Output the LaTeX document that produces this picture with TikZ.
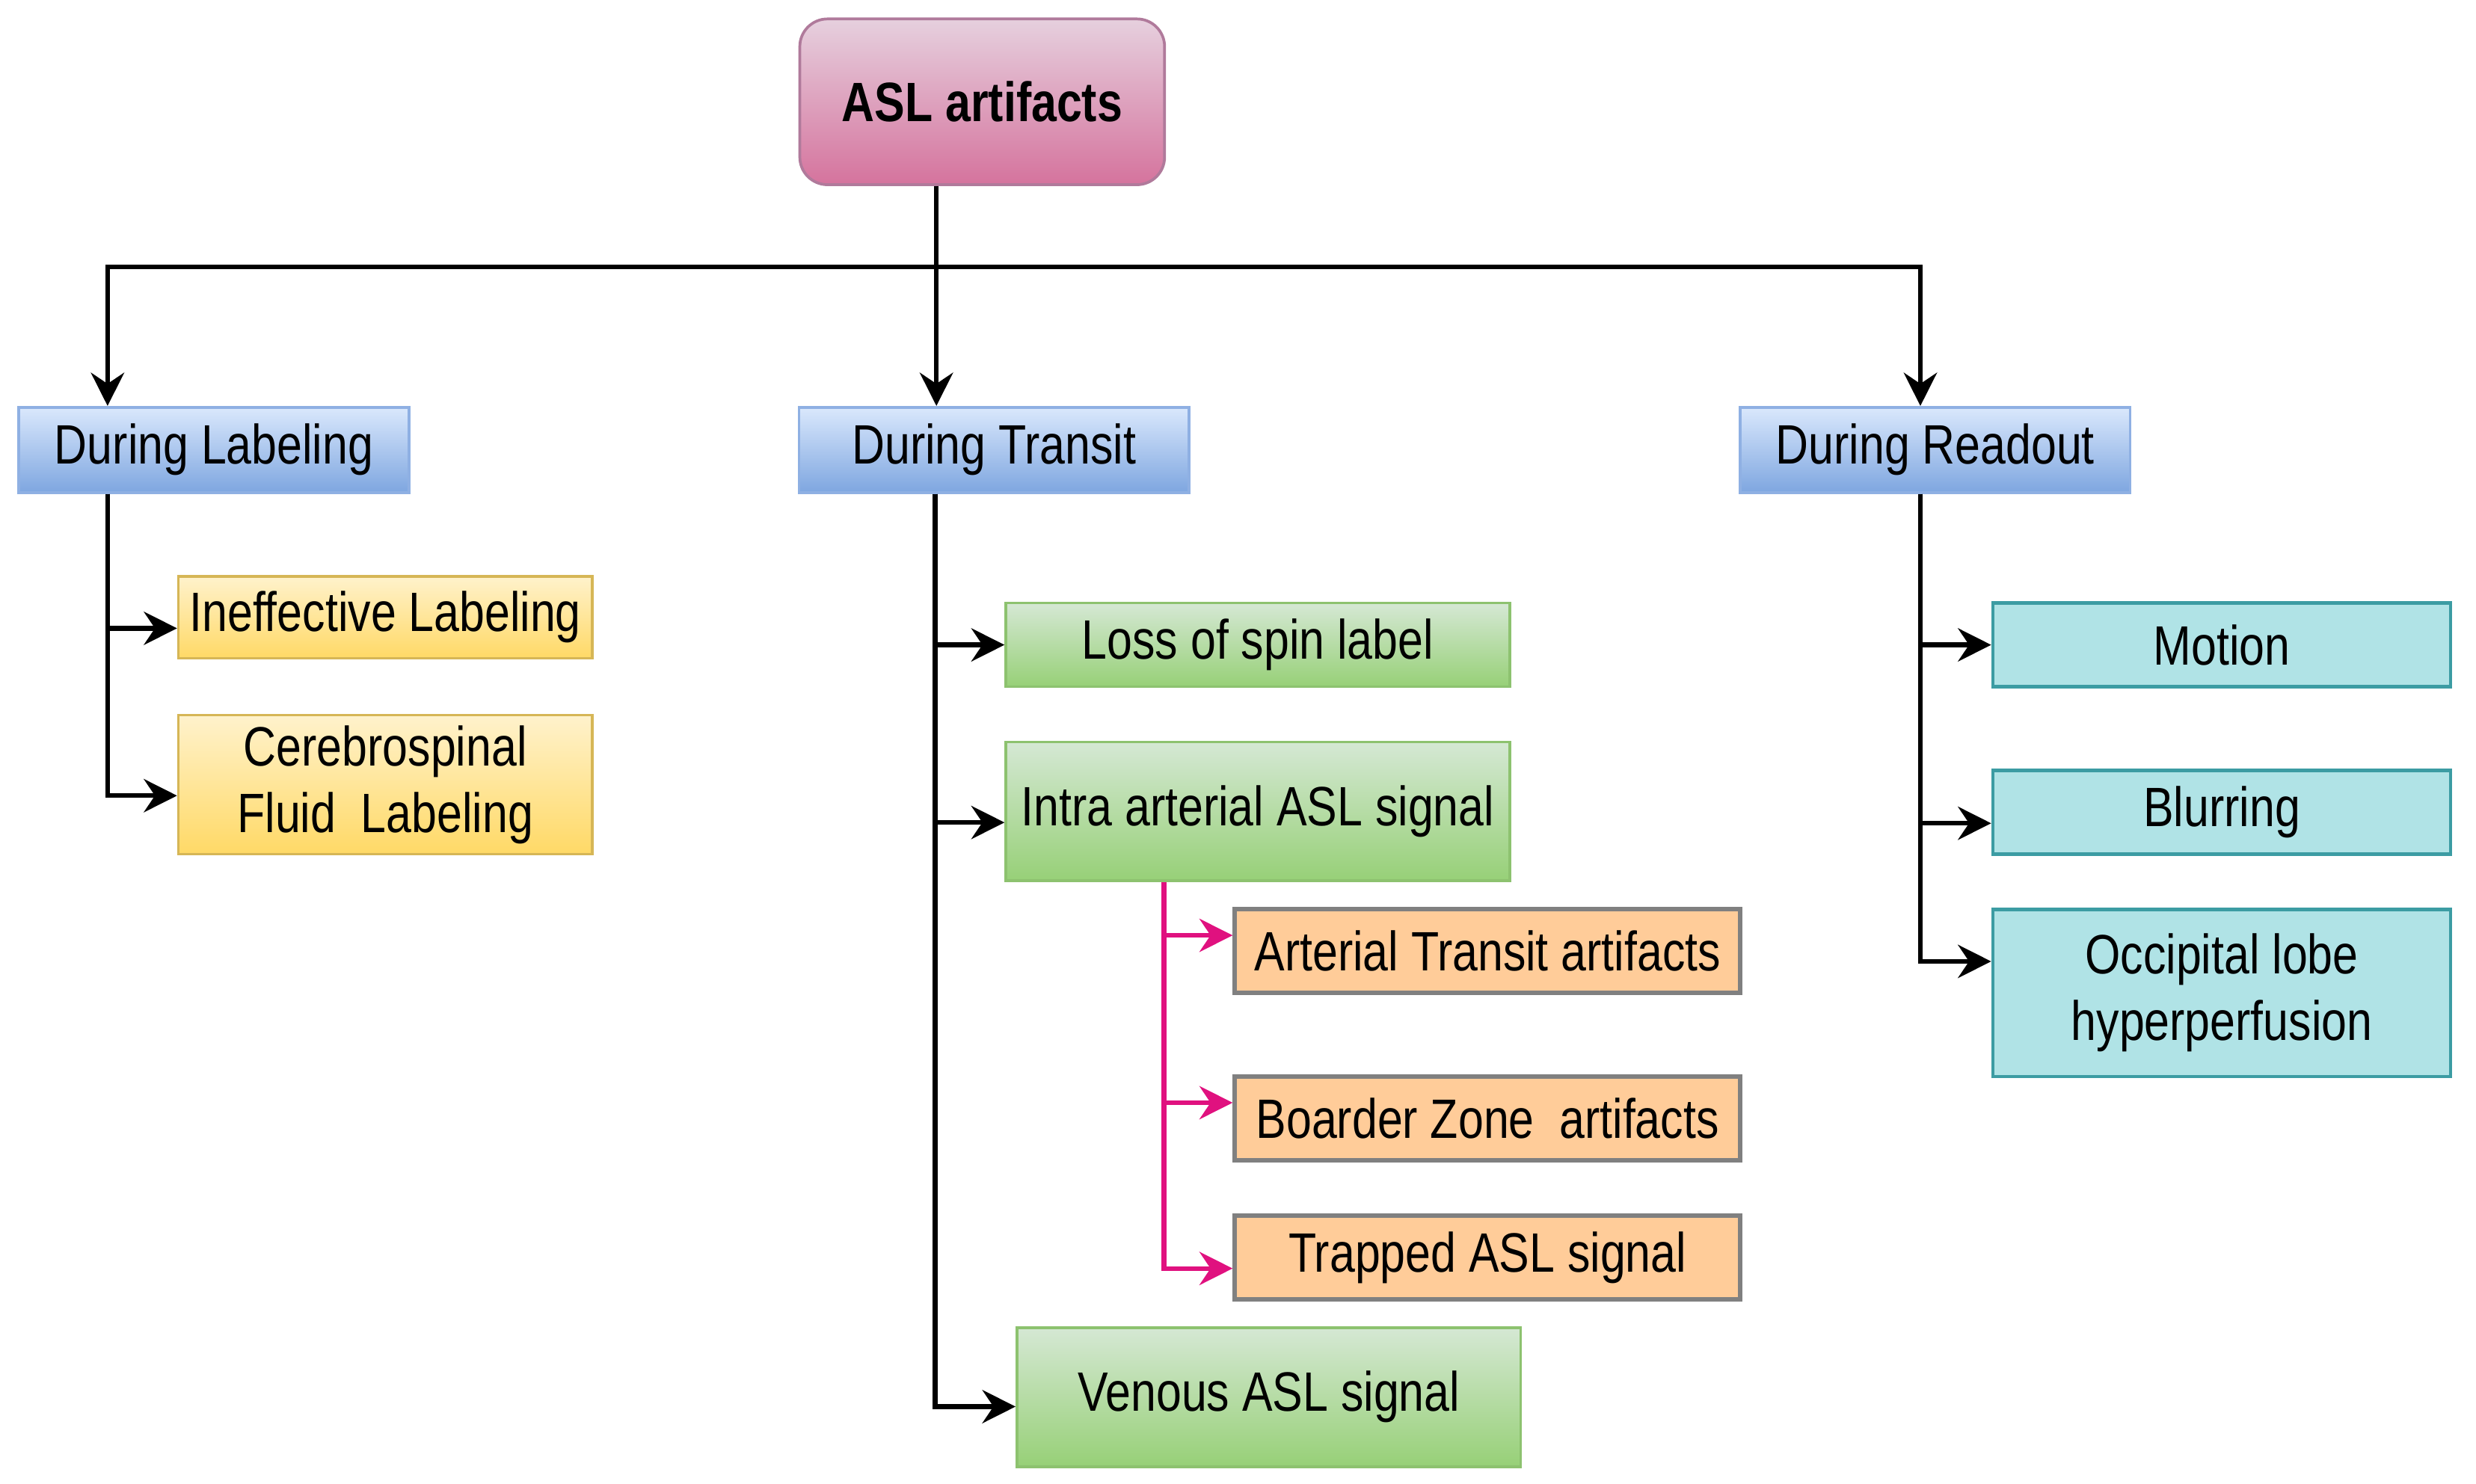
\documentclass[tikz,border=0pt]{standalone}
\usepackage{fontspec}
\setmainfont{Liberation Sans}[FakeStretch=0.82]
\usepackage{tikz}
\usetikzlibrary{arrows.meta,positioning,calc}

\definecolor{rootfill}{HTML}{E6D0DE}
\definecolor{rootgrad}{HTML}{D5739D}
\definecolor{rootline}{HTML}{B07A9B}
\definecolor{phasefill}{HTML}{DAE8FC}
\definecolor{phasegrad}{HTML}{7EA6E0}
\definecolor{phaseline}{HTML}{8FB0E3}
\definecolor{labfill}{HTML}{FFF2CC}
\definecolor{labgrad}{HTML}{FFD966}
\definecolor{labline}{HTML}{D6B656}
\definecolor{tranfill}{HTML}{D5E8D4}
\definecolor{trangrad}{HTML}{97D077}
\definecolor{tranline}{HTML}{8DC26F}
\definecolor{artfill}{HTML}{FFCC99}
\definecolor{artline}{HTML}{808080}
\definecolor{readfill}{HTML}{B0E3E6}
\definecolor{readline}{HTML}{3C9CA3}
\definecolor{pinkarrow}{HTML}{E0117F}

\begin{document}
\begin{tikzpicture}[
    root/.style={draw=rootline,line width=1pt,rounded corners=0.35cm,top color=rootfill,bottom color=rootgrad,font=\fontsize{20}{24}\selectfont\bfseries, minimum width=4.62cm, minimum height=2.1cm},
    phase/.style={draw=phaseline,line width=1pt,top color=phasefill,bottom color=phasegrad,font=\fontsize{20}{24}\selectfont, minimum width=4.94cm, minimum height=1.08cm},
    labbox/.style={draw=labline,line width=1pt,top color=labfill,bottom color=labgrad,font=\fontsize{20}{24}\selectfont, align=center, minimum width=5.24cm, minimum height=1.04cm},
    tranbox/.style={draw=tranline,line width=1pt,top color=tranfill,bottom color=trangrad,font=\fontsize{20}{24}\selectfont, align=center, minimum width=6.38cm, minimum height=1.06cm},
    artbox/.style={draw=artline,line width=1.6pt,fill=artfill,font=\fontsize{20}{24}\selectfont, minimum width=6.4cm, minimum height=1.06cm},
    readbox/.style={draw=readline,line width=1.2pt,fill=readfill,font=\fontsize{20}{24}\selectfont, align=center, minimum width=5.8cm, minimum height=1.06cm},
    link/.style={line width=1.7pt,->,>={Stealth[length=4.2mm,width=4.2mm,inset=1.4mm]}},
    pinklink/.style={link,color=pinkarrow}
    ]
\useasboundingbox (0,0) rectangle (31.36,-18.8);

    \node[root] (root)            at (12.44,-1.29)  {ASL artifacts};
    \node[phase] (labeling)       at (2.71,-5.70)   {During Labeling};
    \node[phase] (transit)        at (12.59,-5.70)  {During Transit};
    \node[phase] (readout)        at (24.51,-5.70)  {During Readout};
    \node[labbox] (ineffective)   at (4.88,-7.82)   {Ineffective Labeling};
    \node[labbox,minimum height=1.76cm] (csf) at (4.88,-9.94) {Cerebrospinal\\Fluid~ Labeling};
    \node[tranbox] (spinloss)     at (15.93,-8.17)  {Loss of spin label};
    \node[tranbox,minimum height=1.76cm] (intra)  at (15.93,-10.28) {Intra arterial ASL signal};
    \node[tranbox,minimum height=1.76cm] (venous) at (16.07,-17.70) {Venous ASL signal};
    \node[artbox] (arterial)      at (18.84,-12.05) {Arterial Transit artifacts};
    \node[artbox] (border)        at (18.84,-14.17) {Boarder Zone~ artifacts};
    \node[artbox] (trapped)       at (18.84,-15.93) {Trapped ASL signal};
    \node[readbox] (motion)       at (28.14,-8.17)  {Motion};
    \node[readbox] (blurring)     at (28.14,-10.29) {Blurring};
    \node[readbox,minimum height=2.12cm] (occipital) at (28.14,-12.58) {Occipital lobe\\hyperperfusion};
    \coordinate (split) at (11.86,-3.38);

    \draw[line width=1.7pt] (root.south -| split) -- (split);
    \draw[link] (split) -| ([xshift=1.14cm]labeling.north west);
    \draw[link] (split) -- (split |- transit.north);
    \draw[link] (split) -| ([xshift=2.3cm]readout.north west);
    %labeling
    \draw[link] ([xshift=1.14cm]labeling.south west) |- ([yshift=-0.14cm]ineffective.west);
    \draw[link] ([xshift=1.14cm]labeling.south west) |- ([yshift=-0.14cm]csf.west);
    %transit
    \draw[link] ([xshift=1.74cm]transit.south west) |- (spinloss.west);
    \draw[link] ([xshift=1.74cm]transit.south west) |- ([yshift=-0.14cm]intra.west);
    \draw[link] ([xshift=1.74cm]transit.south west) |- ([yshift=-0.12cm]venous.west);
    \draw[pinklink] ([xshift=2.02cm]intra.south west) |- ([yshift=0.2cm]arterial.west);
    \draw[pinklink] ([xshift=2.02cm]intra.south west) |- ([yshift=0.2cm]border.west);
    \draw[pinklink] ([xshift=2.02cm]intra.south west) |- ([yshift=-0.14cm]trapped.west);
    %readout
    \draw[link] ([xshift=2.3cm]readout.south west) |- (motion.west);
    \draw[link] ([xshift=2.3cm]readout.south west) |- ([yshift=-0.14cm]blurring.west);
    \draw[link] ([xshift=2.3cm]readout.south west) |- ([yshift=0.4cm]occipital.west);
\end{tikzpicture}
\end{document}
